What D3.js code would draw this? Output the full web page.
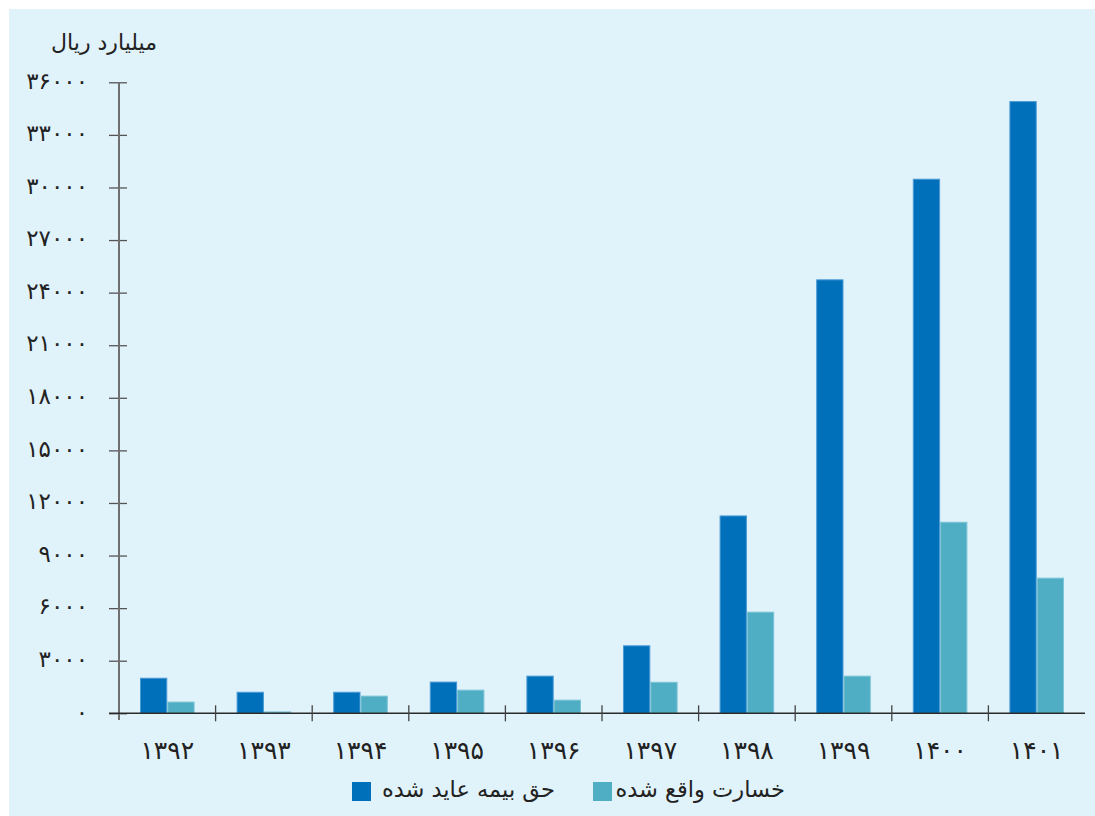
<!DOCTYPE html>
<html><head><meta charset="utf-8">
<script src="https://cdn.jsdelivr.net/npm/d3@7"></script>
<style>
html,body{margin:0;padding:0;background:#fff;}
svg{display:block;}
text{font-family:"DejaVu Sans","Noto Sans",sans-serif;}
</style></head>
<body>
<script>
const categories = ["۱۳۹۲","۱۳۹۳","۱۳۹۴","۱۳۹۵","۱۳۹۶","۱۳۹۷","۱۳۹۸","۱۳۹۹","۱۴۰۰","۱۴۰۱"];
const premiums = [2000, 1200, 1200, 1780, 2120, 3850, 11260, 24730, 30470, 34900];
const claims = [640, 80, 980, 1320, 750, 1770, 5770, 2120, 10900, 7710];
const seriesNames = ["حق بیمه عاید شده","خسارت واقع شده"];
const yTicks = [0,3000,6000,9000,12000,15000,18000,21000,24000,27000,30000,33000,36000];
const unitLabel = "میلیارد ریال";
const colors = ["#0070ba","#50aec4"];

const W = 1095, H = 816;
const svg = d3.select("body").append("svg").attr("width", W).attr("height", H);
svg.append("rect").attr("x", 9).attr("y", 9).attr("width", W - 9).attr("height", H - 9).attr("fill", "#e0f2fa");

const x0 = 119, x1 = 1085, yTop = 82.3, yBot = 713.3;
const fa = d => d.toString().replace(/\d/g, c => "۰۱۲۳۴۵۶۷۸۹"[+c]);
const x = d3.scaleBand().domain(categories).range([x0, x1]).paddingInner(0).paddingOuter(0);
const xs = d3.scaleBand().domain([0,1]).range([21, x.bandwidth() - 21]).paddingInner(0).paddingOuter(0);
const y = d3.scaleLinear().domain([0, 36000]).range([yBot, yTop]);

// bars
const groups = svg.append("g").selectAll("g").data(categories).join("g")
  .attr("transform", d => `translate(${x(d)},0)`);
groups.selectAll("rect").data((d,i) => [premiums[i], claims[i]]).join("rect")
  .attr("x", (v,j) => xs(j) + 0.5)
  .attr("width", xs.bandwidth() - 1)
  .attr("y", v => y(v))
  .attr("height", v => Math.max(0, yBot - y(v)))
  .attr("fill", (v,j) => colors[j])
  .attr("stroke", (v,j) => j === 0 ? "#4a9ad6" : "#7cc4d6")
  .attr("stroke-width", 1);

// y axis
const yAxis = svg.append("g").attr("transform", `translate(${x0},0)`)
  .call(d3.axisLeft(y).tickValues(yTicks).tickSize(10).tickFormat(d => fa(d)));
yAxis.select(".domain").remove();
yAxis.selectAll(".tick line").attr("x2", 8).attr("x1", -10).attr("stroke", "#555").attr("stroke-width", 1.3);
yAxis.selectAll(".tick text").attr("x", -31).attr("font-size", 23).attr("fill", "#222").attr("dy", "0.25em");
svg.append("line").attr("x1", x0).attr("x2", x0).attr("y1", yTop).attr("y2", 720)
  .attr("stroke", "#6f6f6f").attr("stroke-width", 2);

// x axis
const xAxis = svg.append("g").attr("transform", `translate(0,${yBot})`)
  .call(d3.axisBottom(x).tickSize(0).tickFormat(d => d));
xAxis.select(".domain").remove();
xAxis.selectAll(".tick text").attr("y", 28).attr("font-size", 25).attr("fill", "#222");
svg.append("line").attr("x1", 109).attr("x2", x1).attr("y1", yBot).attr("y2", yBot)
  .attr("stroke", "#2a2a2a").attr("stroke-width", 1.5);
svg.append("g").selectAll("line").data(categories.slice(1)).join("line")
  .attr("x1", d => x(d)).attr("x2", d => x(d))
  .attr("y1", yBot - 8).attr("y2", yBot + 8).attr("stroke", "#444").attr("stroke-width", 1.3);

// unit label
svg.append("text").attr("x", 157).attr("y", 50).attr("text-anchor", "end")
  .attr("font-size", 22).attr("fill", "#222").text(unitLabel);

// legend
const legend = [{x: 352, tx: 555, name: seriesNames[0], c: colors[0]}, {x: 593, tx: 785, name: seriesNames[1], c: colors[1]}];
const lg = svg.append("g").selectAll("g").data(legend).join("g");
lg.append("rect").attr("x", d => d.x).attr("y", 782).attr("width", 19).attr("height", 19).attr("fill", d => d.c);
lg.append("text").attr("x", d => d.tx).attr("y", 797).attr("text-anchor", "end")
  .attr("font-size", 22.5).attr("fill", "#222").text(d => d.name);
</script>
</body></html>
